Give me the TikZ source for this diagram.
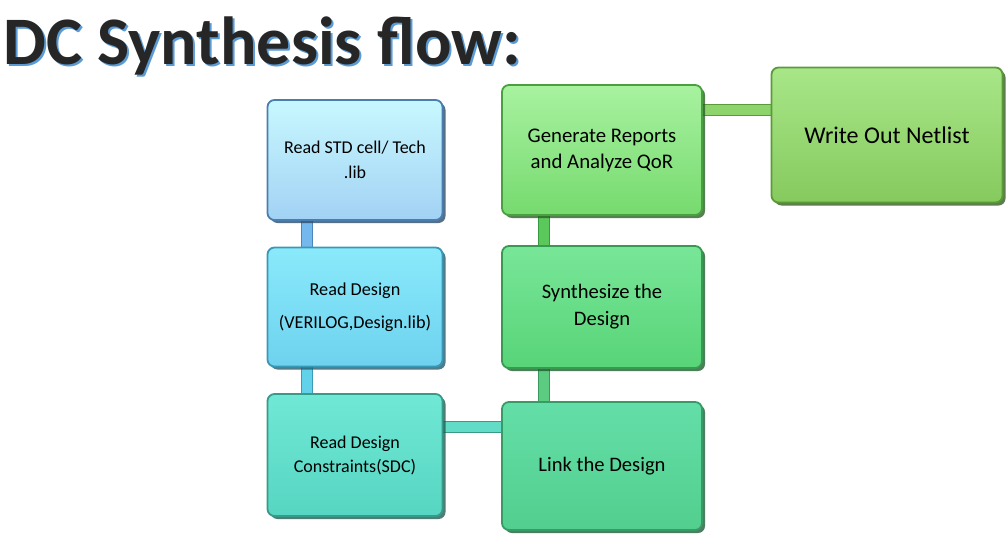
\documentclass[tikz,border=0pt]{standalone}
\usepackage{fontspec}
\setmainfont{Carlito}
\usetikzlibrary{shadows,backgrounds}
\definecolor{titlec}{HTML}{262626}
\definecolor{titleshadow}{HTML}{5B9BD5}
\definecolor{bat}{HTML}{C8F8FE}\definecolor{bab}{HTML}{A2D2F4}\definecolor{bad}{HTML}{4A7EB0}
\definecolor{bbt}{HTML}{8AEAFB}\definecolor{bbb}{HTML}{6ED2EF}\definecolor{bbd}{HTML}{3A98B6}
\definecolor{bct}{HTML}{70E8D6}\definecolor{bcb}{HTML}{56D6C2}\definecolor{bcd}{HTML}{389A88}
\definecolor{bdt}{HTML}{64DEA8}\definecolor{bdb}{HTML}{52CF8E}\definecolor{bdd}{HTML}{389A64}
\definecolor{bet}{HTML}{78E698}\definecolor{beb}{HTML}{58D478}\definecolor{bed}{HTML}{389A50}
\definecolor{bft}{HTML}{A8F2A0}\definecolor{bfb}{HTML}{76DA6E}\definecolor{bfd}{HTML}{48A03E}
\definecolor{bgt}{HTML}{A8E688}\definecolor{bgb}{HTML}{86CA5E}\definecolor{bgd}{HTML}{5A9A38}
\definecolor{la}{HTML}{74B8EE}\definecolor{lad}{HTML}{4A86BC}
\definecolor{lb}{HTML}{62D2EA}\definecolor{lbd}{HTML}{3A9AB8}
\definecolor{lc}{HTML}{62DCC6}\definecolor{lcd}{HTML}{3A9A88}
\definecolor{ld}{HTML}{5CCC80}\definecolor{ldd}{HTML}{389A60}
\definecolor{le}{HTML}{5AC85A}\definecolor{led}{HTML}{389A40}
\definecolor{lf}{HTML}{8ED46C}\definecolor{lfd}{HTML}{5A9A38}
\tikzset{
  flowbox/.style n args={3}{draw=#3, line width=1.8pt, rounded corners=7pt,
    top color=#1, bottom color=#2, inner sep=0pt, align=center, text=black,
    drop shadow={shadow xshift=3pt, shadow yshift=-3pt, fill=#3!60!black, opacity=0.8},
    font=\fontsize{18}{25}\selectfont},
  linkbar/.style n args={2}{draw=#2, line width=1pt, double=#1, double distance=10pt, line cap=butt},
}
\begin{document}
\begin{tikzpicture}[x=1pt,y=-1pt]
\useasboundingbox (0,0) rectangle (1007,533);
% title
\node[anchor=base west, inner sep=0pt, text=titleshadow, font=\fontsize{68}{68}\selectfont\bfseries] at (5,66) {DC Synthesis flow:};
\node[anchor=base west, inner sep=0pt, text=titlec, font=\fontsize{68}{68}\selectfont\bfseries] (title) at (3,64) {DC Synthesis flow:};
% boxes
\node[flowbox={bat}{bab}{bad}, minimum width=175pt, minimum height=120pt] (b1) at (355,160) {Read STD cell/ Tech\\.lib};
\node[flowbox={bbt}{bbb}{bbd}, minimum width=175pt, minimum height=119pt, font=\fontsize{18.2}{33}\selectfont] (b2) at (355,307) {Read Design\\(VERILOG,Design.lib)};
\node[flowbox={bct}{bcb}{bcd}, minimum width=175pt, minimum height=122pt, font=\fontsize{18}{24}\selectfont] (b3) at (355,455) {Read Design\\Constraints(SDC)};
\node[flowbox={bdt}{bdb}{bdd}, minimum width=200pt, minimum height=128pt, font=\fontsize{20.6}{26}\selectfont] (b4) at (602,466) {Link the Design};
\node[flowbox={bet}{beb}{bed}, minimum width=200pt, minimum height=122pt, font=\fontsize{20.6}{27}\selectfont] (b5) at (602,307) {Synthesize the\\Design};
\node[flowbox={bft}{bfb}{bfd}, minimum width=200pt, minimum height=130pt, font=\fontsize{20.8}{26}\selectfont] (b6) at (602,150) {Generate Reports\\and Analyze QoR};
\node[flowbox={bgt}{bgb}{bgd}, minimum width=231pt, minimum height=135pt, font=\fontsize{24}{26}\selectfont] (b7) at (887,135) {Write Out Netlist};
% connectors
\begin{scope}[on background layer]
\draw[linkbar={la}{lad}] ([xshift=40pt]b1.south west) -- ([xshift=40pt]b2.north west);
\draw[linkbar={lb}{lbd}] ([xshift=40pt]b2.south west) -- ([xshift=40pt]b3.north west);
\draw[linkbar={lc}{lcd}] ([yshift=28pt]b3.east) -- ([yshift=28pt]b3.east -| b4.west);
\draw[linkbar={ld}{ldd}] ([xshift=43pt]b4.north west) -- ([xshift=43pt]b5.south west);
\draw[linkbar={le}{led}] ([xshift=43pt]b5.north west) -- ([xshift=43pt]b6.south west);
\draw[linkbar={lf}{lfd}] ([yshift=-26pt]b6.north east) -- ([yshift=-26pt]b6.north east -| b7.west);
\end{scope}
\end{tikzpicture}
\end{document}
